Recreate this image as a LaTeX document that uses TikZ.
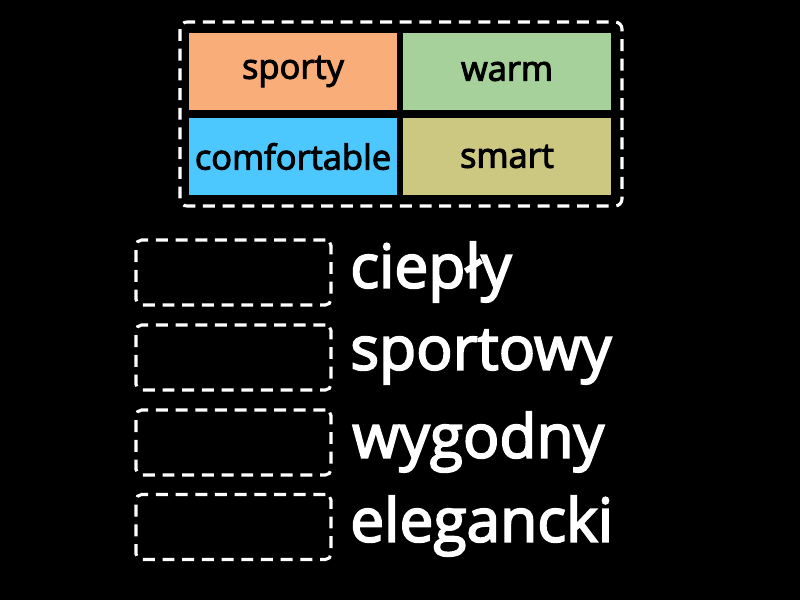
\documentclass[tikz,border=0pt]{standalone}
\usepackage{fontspec}
\setmainfont{Open Sans}
\newfontfamily\semibold[FakeBold=3]{Open Sans}
\usepackage{tikz}
\usetikzlibrary{positioning}
\definecolor{tile-orange}{RGB}{249,173,120}
\definecolor{tile-green}{RGB}{166,209,154}
\definecolor{tile-blue}{RGB}{77,200,255}
\definecolor{tile-olive}{RGB}{204,199,129}

\begin{document}
\begin{tikzpicture}[x=0.025cm, y=-0.025cm]
    \fill[black] (0,0) rectangle (800,600);
    \path[use as bounding box] (0,0) rectangle (800,600);

    \tikzset{ tile/.style  ={minimum width=208*0.025cm, minimum height=77*0.025cm, inner sep=0pt, font=\semibold\fontsize{24.5}{26}\selectfont} }
    \tikzset{ blank/.style ={draw=white, dashed, dash pattern=on 8.5pt off 5.5pt, line width=2.2pt, rounded corners=4pt, minimum width=195*0.025cm, minimum height=65*0.025cm} }
    \tikzset{ word/.style  ={text=white, anchor=west, inner sep=0pt, font=\semibold\fontsize{43}{45}\selectfont} }

    \draw[white, dashed, dash pattern=on 8.5pt off 5.5pt, line width=2.2pt, rounded corners=5pt] (180,22) rectangle (622,206);

    \node[tile, fill=tile-orange] (sporty) at (293, 71.5)  {sporty};
    \node[tile, fill=tile-green]  (warm)   at (507, 71.5)  {warm};
    \node[tile, fill=tile-blue]   (comf)   at (293, 156.5) {comfortable};
    \node[tile, fill=tile-olive]  (smart)  at (507, 156.5) {smart};

    \node[blank] (b1) at (233.5, 272.5) {};
    \node[blank] (b2) at (233.5, 357.5) {};
    \node[blank] (b3) at (233.5, 442.5) {};
    \node[blank] (b4) at (233.5, 527)   {};

    \node[word] (w1) at (350, 272) {ciepły};
    \node[word] (w2) at (350, 357) {sportowy};
    \node[word] (w3) at (352, 442) {wygodny};
    \node[word] (w4) at (350, 526) {elegancki};
\end{tikzpicture}
\end{document}
